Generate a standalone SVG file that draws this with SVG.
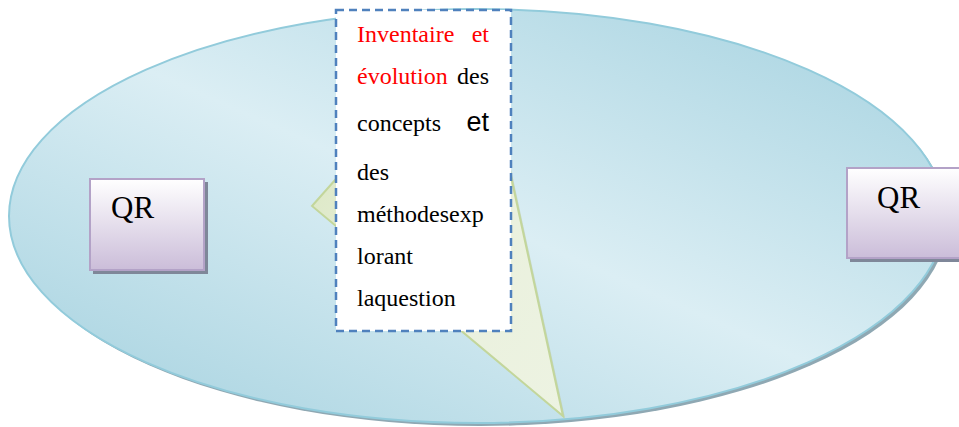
<svg xmlns="http://www.w3.org/2000/svg" width="959" height="427" viewBox="0 0 959 427">
  <defs>
    <linearGradient id="ellGrad" x1="1" y1="0" x2="0" y2="1">
      <stop offset="0" stop-color="#a3d1df"/>
      <stop offset="0.5" stop-color="#dbeef4"/>
      <stop offset="1" stop-color="#a2d0de"/>
    </linearGradient>
    <linearGradient id="qrGrad" x1="0" y1="0" x2="0" y2="1">
      <stop offset="0" stop-color="#ffffff"/>
      <stop offset="1" stop-color="#cbbdd9"/>
    </linearGradient>
    <linearGradient id="greenGrad" x1="0" y1="0" x2="1" y2="1">
      <stop offset="0" stop-color="#d5e3b8"/>
      <stop offset="0.5" stop-color="#e9f0dc"/>
      <stop offset="1" stop-color="#edf3e2"/>
    </linearGradient>
  </defs>
  <style>
    .qrbox { fill: url(#qrGrad); stroke: #b3a2c7; stroke-width: 2; }
    .qrshadow { fill: #7f8799; }
  </style>

  <g id="ellipse">
    <ellipse cx="480" cy="219" rx="468" ry="207" fill="#8fa8b3"/>
    <ellipse cx="477" cy="216" rx="468" ry="207" fill="url(#ellGrad)" stroke="#92cbdb" stroke-width="2"/>
  </g>

  <g id="qr-left">
    <rect class="qrshadow" x="93" y="182" width="115" height="92"/>
    <rect class="qrbox" x="90" y="179" width="114" height="91"/>
    <text font-family="Liberation Serif, Times New Roman, serif" font-size="31" fill="#000" x="111" y="218">QR</text>
  </g>

  <g id="qr-right">
    <rect class="qrshadow" x="850" y="171" width="115" height="91"/>
    <rect class="qrbox" x="847" y="168" width="116" height="90"/>
    <text font-family="Liberation Serif, Times New Roman, serif" font-size="31" fill="#000" x="877" y="208">QR</text>
  </g>

  <g id="callout" font-family="Liberation Serif, Times New Roman, serif" font-size="24" fill="#000">
    <polygon points="314,208 479,22 565,418" fill="#b9c8a0" opacity="0.6"/>
    <polygon points="312,206 477,20 563,416" fill="url(#greenGrad)" stroke="#c3d69b" stroke-width="2"/>
    <rect x="336" y="10" width="175" height="321" fill="#ffffff" stroke="#4f81bd" stroke-width="2.5" stroke-dasharray="8,5"/>
    <text fill="#ff0000" x="357" y="42">Inventaire</text>
    <text fill="#ff0000" x="489" y="42" text-anchor="end">et</text>
    <text fill="#ff0000" x="357" y="84">évolution</text>
    <text x="489" y="84" text-anchor="end">des</text>
    <text x="357" y="131">concepts</text>
    <text x="489" y="131" text-anchor="end" font-family="Liberation Sans, Arial, sans-serif" font-size="27">et</text>
    <text x="357" y="180">des</text>
    <text x="357" y="222">méthodesexp</text>
    <text x="357" y="264">lorant</text>
    <text x="357" y="306">laquestion</text>
  </g>
</svg>
